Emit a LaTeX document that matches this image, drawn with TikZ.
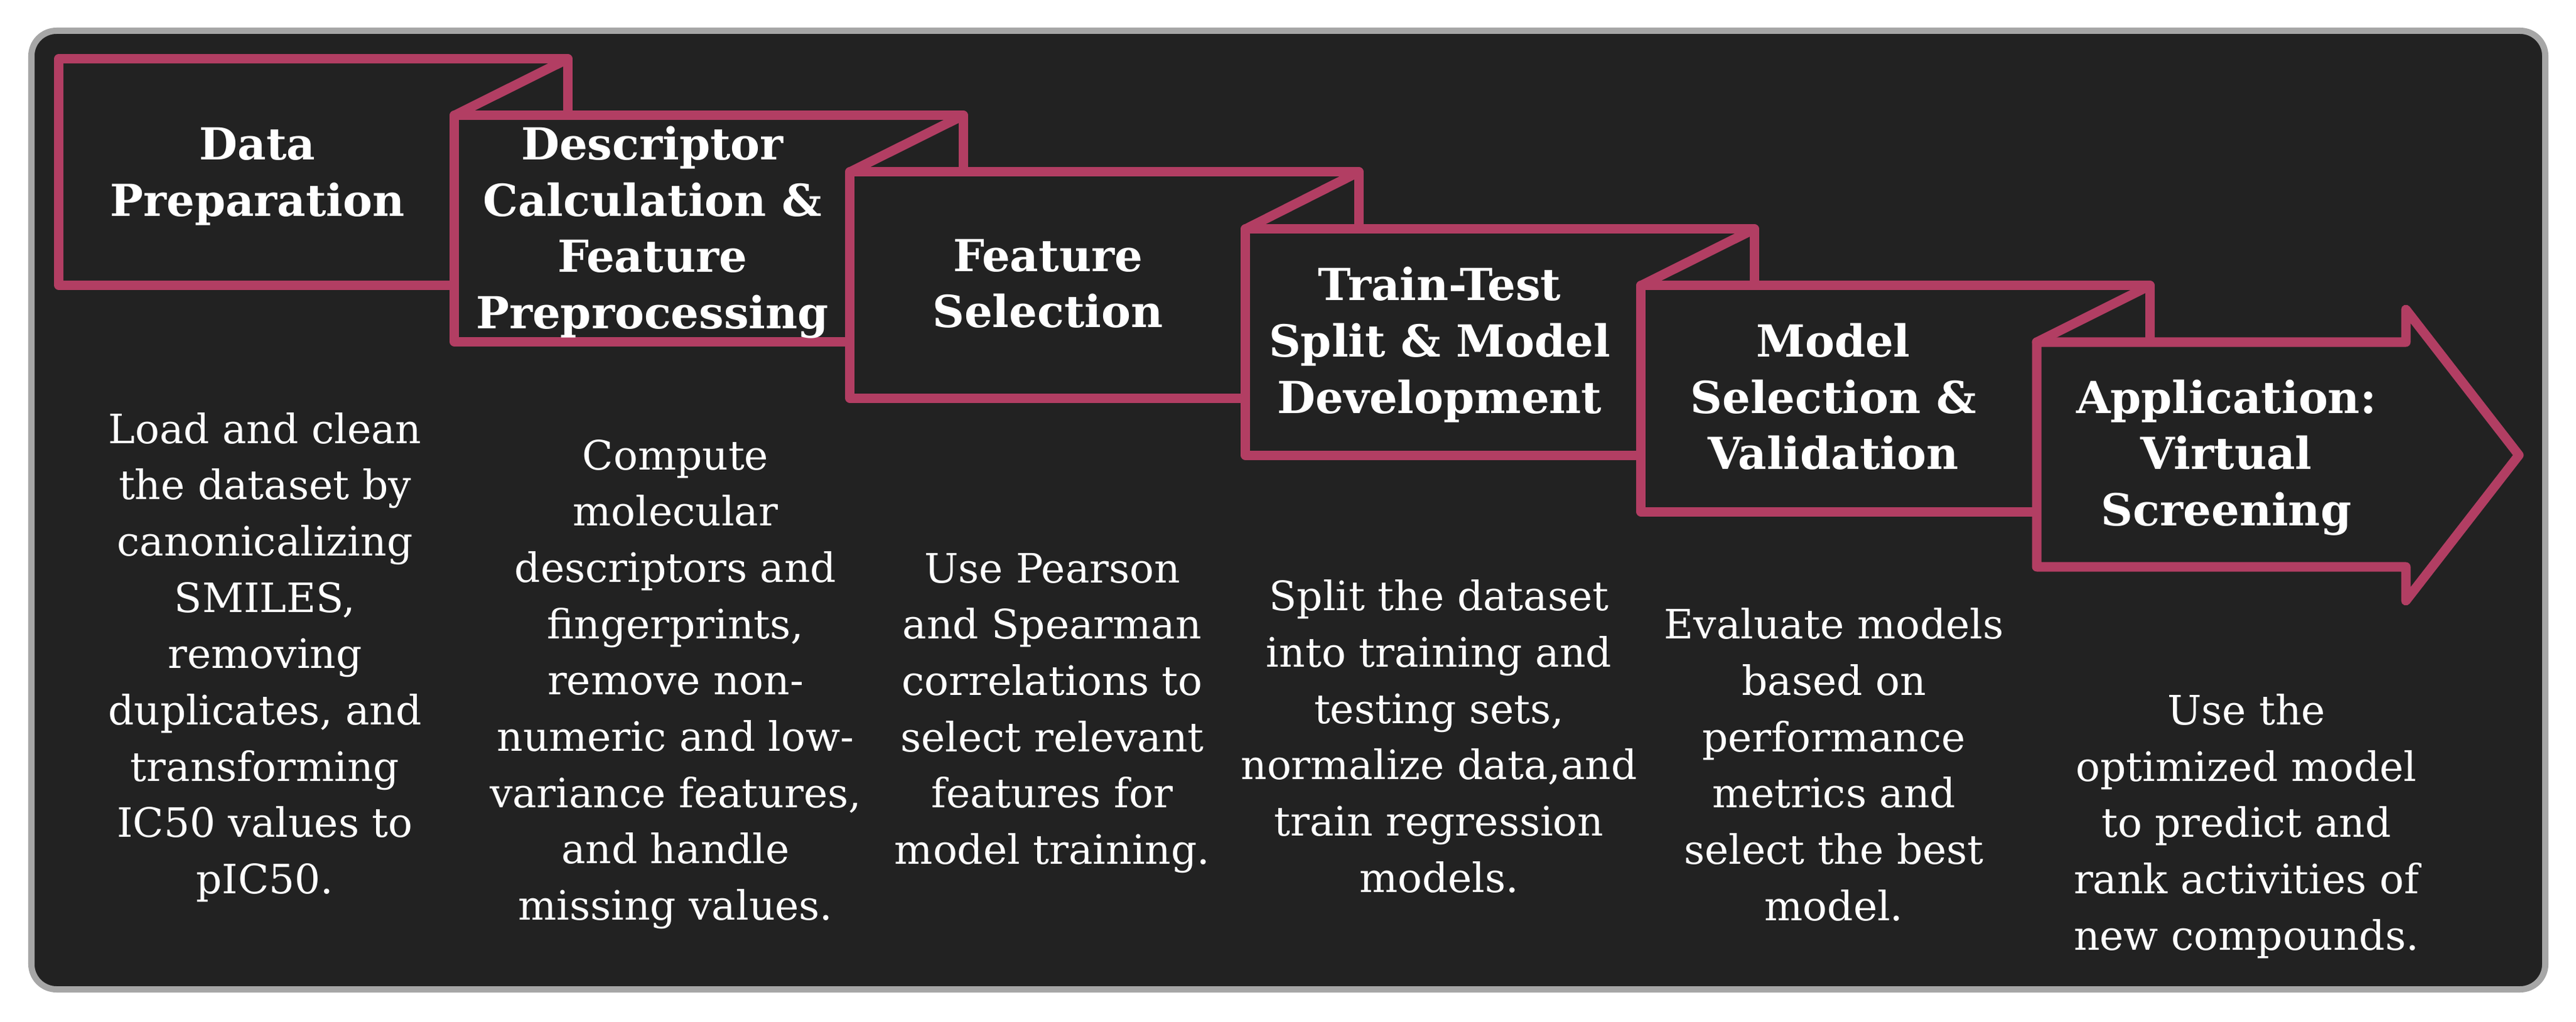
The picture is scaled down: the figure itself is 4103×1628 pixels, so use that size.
\documentclass[tikz,border=0pt]{standalone}
\usepackage{fontspec}
\setmainfont{DejaVu Serif}
\definecolor{pinkc}{RGB}{178,62,99}
\definecolor{darkc}{RGB}{34,34,34}
\definecolor{grayc}{RGB}{166,166,166}
\begin{document}
\begin{tikzpicture}[x=0.01cm,y=-0.01cm,
  stepbox/.style={draw=pinkc, fill=darkc, line width=0.15cm, line join=round,
    rectangle, minimum width=8.1cm, minimum height=3.6cm, inner sep=0pt, outer sep=0pt},
  arrowbox/.style={draw=pinkc, fill=darkc, line width=0.15cm, line join=round},
  fold/.style={draw=pinkc, line width=0.15cm, line cap=round},
  title/.style={text=white, font=\fontsize{20}{25.5}\selectfont\bfseries, align=center, inner sep=0pt},
  body/.style={text=white, font=\fontsize{18.35}{25.5}\selectfont, align=center, inner sep=0pt}]
\useasboundingbox (0,0) rectangle (4103,1628);
\fill[white] (0,0) rectangle (4103,1628);
\draw[draw=grayc, fill=darkc, line width=0.1cm, rounded corners=0.4cm] (50,49) rectangle (4054,1576);

% step boxes
\node[stepbox] (b1) at (499,274) {};
\node[stepbox] (b2) at (1129,364) {};
\draw[fold] (b1.north east) -- (b2.north west);
\node[stepbox] (b3) at (1759,454) {};
\draw[fold] (b2.north east) -- (b3.north west);
\node[stepbox] (b4) at (2389,545) {};
\draw[fold] (b3.north east) -- (b4.north west);
\node[stepbox] (b5) at (3019,635) {};
\draw[fold] (b4.north east) -- (b5.north west);
\coordinate (a6) at (3244,545);
\draw[arrowbox] (a6) -- (3832,545) -- (3832,493) -- (4012,725) -- (3832,957) -- (3832,903) -- (3244,903) -- cycle;
\draw[fold] (b5.north east) -- (a6);

% titles
\node[title] (t1) at (410,281) {Data\\Preparation};
\node[title] (t2) at (1039,370) {Descriptor\\Calculation \&\\Feature\\Preprocessing};
\node[title] (t3) at (1669,452) {Feature\\Selection};
\node[title] (t4) at (2293,549) {Train-Test\\Split \& Model\\Development};
\node[title] (t5) at (2920,632) {Model\\Selection \&\\Validation};
\node[title] (t6) at (3546,729) {Application:\\Virtual\\Screening};

% descriptions
\node[body] (d1) at (422,1047) {Load and clean\\the dataset by\\canonicalizing\\SMILES,\\removing\\duplicates, and\\transforming\\IC50 values to\\pIC50.};
\node[body] (d2) at (1076,1090) {Compute\\molecular\\descriptors and\\fingerprints,\\remove non-\\numeric and low-\\variance features,\\and handle\\missing values.};
\node[body] (d3) at (1676,1136) {Use Pearson\\and Spearman\\correlations to\\select relevant\\features for\\model training.};
\node[body] (d4) at (2292,1173) {Split the dataset\\into training and\\testing sets,\\normalize data,and\\train regression\\models.};
\node[body] (d5) at (2921,1218) {Evaluate models\\based on\\performance\\metrics and\\select the best\\model.};
\node[body] (d6) at (3578,1316) {Use the\\optimized model\\to predict and\\rank activities of\\new compounds.};
\end{tikzpicture}
\end{document}
